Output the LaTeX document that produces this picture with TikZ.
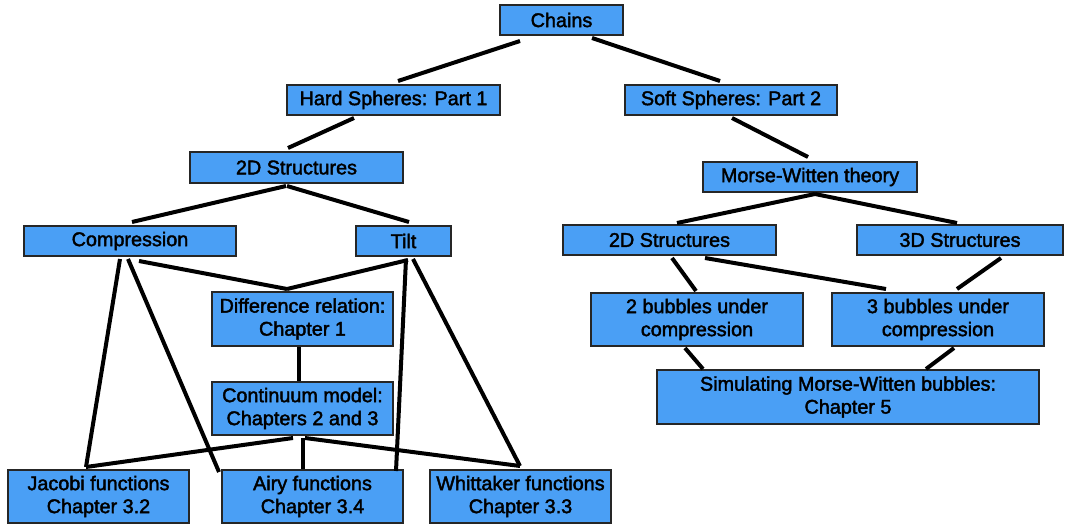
\documentclass[tikz,border=0pt]{standalone}
\usepackage{fontspec}
\setmainfont[FakeBold=2]{Liberation Sans}
\definecolor{boxblue}{RGB}{74,159,245}
\begin{document}
\begin{tikzpicture}[x=1pt,y=-1pt,
  box/.style={draw=black!85,line width=2pt,fill=boxblue,inner sep=0pt,align=center,
    font=\fontsize{19.8}{23}\selectfont},
  link/.style={line width=4pt,black}]
\useasboundingbox (0,0) rectangle (1065,524);
\node[box,minimum width=123pt,minimum height=30pt] (chains) at (561.5,20) {Chains};
\node[box,minimum width=213pt,minimum height=30pt] (hard) at (393.5,100) {Hard Spheres: Part 1};
\node[box,minimum width=212pt,minimum height=30pt] (soft) at (731,100) {Soft Spheres: Part 2};
\node[box,minimum width=213pt,minimum height=31pt] (ltwod) at (296.5,167.5) {2D Structures};
\node[box,minimum width=214pt,minimum height=30pt] (morse) at (810,177) {Morse-Witten theory};
\node[box,minimum width=212pt,minimum height=30pt] (comp) at (130,241) {Compression};
\node[box,minimum width=95pt,minimum height=30pt] (tilt) at (403.5,241) {Tilt};
\node[box,minimum width=213pt,minimum height=30pt] (rtwod) at (669.5,240) {2D Structures};
\node[box,minimum width=206pt,minimum height=30pt] (threed) at (960,240) {3D Structures};
\node[box,minimum width=181pt,minimum height=54pt] (diff) at (302.5,319) {Difference relation:\\Chapter 1};
\node[box,minimum width=181pt,minimum height=53pt] (cont) at (302.5,408.5) {Continuum model:\\Chapters 2 and 3};
\node[box,minimum width=181pt,minimum height=53pt] (jac) at (98.5,496.5) {Jacobi functions\\Chapter 3.2};
\node[box,minimum width=181pt,minimum height=53pt] (airy) at (312.5,496.5) {Airy functions\\Chapter 3.4};
\node[box,minimum width=181pt,minimum height=53pt] (whit) at (520.5,496.5) {Whittaker functions\\Chapter 3.3};
\node[box,minimum width=212pt,minimum height=53pt] (btwo) at (697,319.5) {2 bubbles under\\compression};
\node[box,minimum width=212pt,minimum height=53pt] (bthree) at (938,319.5) {3 bubbles under\\compression};
\node[box,minimum width=382pt,minimum height=54pt] (sim) at (848,397) {Simulating Morse-Witten bubbles:\\Chapter 5};

\draw[link] ([shift={(-41.5,5)}]chains.south) -- ([shift={(4.5,-3)}]hard.north);
\draw[link] ([shift={(30.5,2)}]chains.south) -- ([shift={(-11,-3)}]soft.north);
\draw[link] ([shift={(-39.5,2)}]hard.south) -- ([shift={(-8.5,-3)}]ltwod.north);
\draw[link] ([shift={(1,2)}]soft.south) -- ([shift={(-2,-4)}]morse.north);
\draw[link] ([shift={(-10.5,2)}]ltwod.south) -- ([shift={(2,-3)}]comp.north);
\draw[link] ([shift={(-9.5,2)}]ltwod.south) -- ([shift={(5.5,-3)}]tilt.north);
\draw[link] ([shift={(5,1)}]morse.south) -- ([shift={(7.5,-1)}]rtwod.north);
\draw[link] ([shift={(5,1)}]morse.south) -- ([shift={(-3,-1)}]threed.north);
\draw[link] ([shift={(9,4)}]comp.south) -- ([shift={(-15.5,-2)}]diff.north);
\draw[link] ([shift={(4.5,3)}]tilt.south) -- ([shift={(-15.5,-2)}]diff.north);
\draw[link] ([shift={(-10,2)}]comp.south) -- ([shift={(-12.5,-2)}]jac.north);
\draw[link] ([shift={(-2,2)}]comp.south) -- ([shift={(-2,3)}]airy.north west);
\draw[link] ([shift={(2.5,2)}]tilt.south) -- ([shift={(83.5,2)}]airy.north);
\draw[link] ([shift={(9.5,2)}]tilt.south) -- ([shift={(-0.5,-3)}]whit.north);
\draw[link] ([shift={(-3.5,0)}]diff.south) -- ([shift={(-3.5,0)}]cont.north);
\draw[link] ([shift={(-9.5,2)}]cont.south) -- ([shift={(-12.5,-2)}]jac.north);
\draw[link] ([shift={(0.5,2)}]cont.south) -- ([shift={(-9.5,0)}]airy.north);
\draw[link] ([shift={(2.5,2)}]cont.south) -- ([shift={(-0.5,-3)}]whit.north);
\draw[link] ([shift={(2.5,2)}]rtwod.south) -- ([shift={(-1,-1)}]btwo.north);
\draw[link] ([shift={(35.5,2)}]rtwod.south) -- ([shift={(-52,-3)}]bthree.north);
\draw[link] ([shift={(41,2)}]threed.south) -- ([shift={(19,-3)}]bthree.north);
\draw[link] ([shift={(-12,1)}]btwo.south) -- ([shift={(-145,0)}]sim.north);
\draw[link] ([shift={(16,1)}]bthree.south) -- ([shift={(78,0)}]sim.north);
\end{tikzpicture}
\end{document}
